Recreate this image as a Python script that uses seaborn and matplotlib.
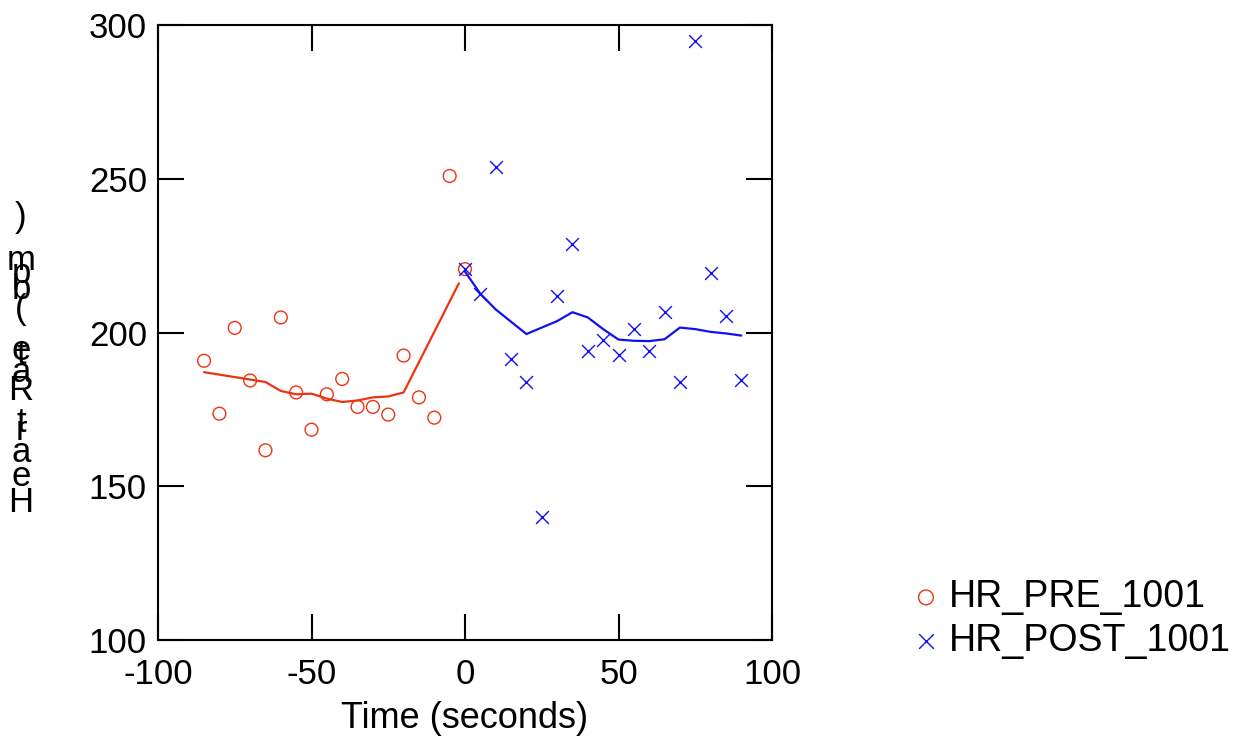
import numpy as np
import pandas as pd
import matplotlib
matplotlib.use("Agg")
import matplotlib.pyplot as plt
import seaborn as sns

# --- data ---
pre_time = [-85, -80, -75, -70, -65, -60, -55, -50, -45, -40, -35, -30, -25, -20, -15, -10, -5, 0]
pre_hr = [190.8, 173.6, 201.5, 184.4, 161.7, 204.9, 180.5, 168.4, 179.9, 184.9,
          175.8, 175.8, 173.3, 192.5, 178.9, 172.3, 250.9, 220.6]

pre_fit_time = [-85, -80, -75, -70, -65, -60, -55, -50, -45, -40, -35, -30, -25, -20, -2]
pre_fit_hr = [187.1, 186.3, 185.5, 184.7, 183.9, 181.0, 179.9, 180.1, 178.5, 177.4,
              177.9, 178.9, 179.2, 180.5, 216.0]

post_time = [0, 5, 10, 15, 20, 25, 30, 35, 40, 45, 50, 55, 60, 65, 70, 75, 80, 85, 90]
post_hr = [220.6, 212.6, 253.7, 191.5, 183.9, 140.0, 211.8, 228.7, 194.0, 197.7,
           192.8, 201.1, 194.0, 206.7, 183.9, 294.7, 219.4, 205.3, 184.5]

post_fit_time = [0, 5, 10, 15, 20, 25, 30, 35, 40, 45, 50, 55, 60, 65, 70, 75, 80, 85, 90]
post_fit_hr = [219.8, 212.6, 207.5, 203.5, 199.5, 201.6, 203.7, 206.6, 204.9, 201.1,
               197.7, 197.3, 197.2, 197.8, 201.6, 201.1, 200.2, 199.7, 199.0]

x_ticks = [-100, -50, 0, 50, 100]
y_ticks = [100, 150, 200, 250, 300]

ylabel_text = "Heart Rate (bpm)"
# vertical pixel centre of each glyph in the broken stacked label (bottom = 'H')
ylabel_char_y = [502, 477, 453, 430, 423, None, 390, 372, 355, 350, None, 310, 290, 273, 260, 217]

PRE_COLOR = "#ee3311"
POST_COLOR = "#1111ee"
FS = 25

sns.set_theme(style="ticks")
plt.rcParams["font.family"] = ["Liberation Sans", "DejaVu Sans"]
plt.rcParams["axes.unicode_minus"] = False
plt.rcParams["text.color"] = "black"
plt.rcParams["axes.labelcolor"] = "black"

W, H = 1236, 741
fig = plt.figure(figsize=(W / 100, H / 100), dpi=100)
ax = fig.add_axes([158 / W, 1 - 640 / H, (772 - 158) / W, (640 - 25) / H])

pre = pd.DataFrame({"time": pre_time, "hr": pre_hr})
post = pd.DataFrame({"time": post_time, "hr": post_hr})
pre_fit = pd.DataFrame({"time": pre_fit_time, "hr": pre_fit_hr})
post_fit = pd.DataFrame({"time": post_fit_time, "hr": post_fit_hr})

sns.lineplot(data=pre_fit, x="time", y="hr", color=PRE_COLOR, linewidth=1.6, ax=ax, legend=False)
sns.lineplot(data=post_fit, x="time", y="hr", color=POST_COLOR, linewidth=1.6, ax=ax, legend=False)
sns.scatterplot(data=pre, x="time", y="hr", marker="o", s=85, facecolors="none",
                edgecolor=PRE_COLOR, linewidth=1.0, ax=ax, label="HR_PRE_1001")
sns.scatterplot(data=post, x="time", y="hr", marker="x", s=85, color=POST_COLOR,
                linewidth=1.0, ax=ax, label="HR_POST_1001")

ax.set_xlim(-100, 100)
ax.set_ylim(100, 300)
ax.set_xticks(x_ticks)
ax.set_yticks(y_ticks)
ax.tick_params(direction="in", length=19, width=1.5, top=True, right=True,
               labelsize=FS, colors="black")
ax.tick_params(axis="y", pad=8)
ax.tick_params(axis="x", pad=13)
for sp in ax.spines.values():
    sp.set_linewidth(1.5)
    sp.set_color("black")

ax.set_xlabel("Time (seconds)", fontsize=26, labelpad=7)
ax.set_ylabel("")

# stacked, overlapping y-label as in the reference
for ch, py in zip(ylabel_text, ylabel_char_y):
    if py is None:
        continue
    fig.text(21 / W, 1 - py / H, ch, ha="center", va="center", fontsize=FS)

handles, labels = ax.get_legend_handles_labels()
leg = ax.legend(handles, labels, loc="center left", bbox_to_anchor=(895 / W, 1 - 619 / H),
                bbox_transform=fig.transFigure, frameon=False, fontsize=27,
                handlelength=0.85, handletextpad=0.2, labelspacing=0.2, borderaxespad=0,
                markerscale=1.15)

fig.savefig("out.png", dpi=100)
